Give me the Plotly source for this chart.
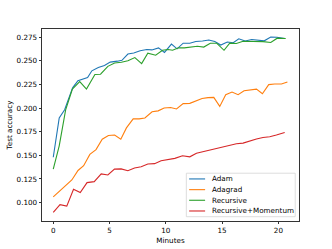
import plotly.graph_objects as go

# ---- data ----
series_names = ["Adam", "Adagrad", "Recursive", "Recursive+Momentum"]
series_colors = ["#1f77b4", "#ff7f0e", "#2ca02c", "#d62728"]

adam_min = [0, 0.53, 1.01, 1.72, 2.19, 2.6, 3.05, 3.43, 4.0, 4.55, 5.06, 5.7, 6.1, 6.63, 7.15, 7.72,
            8.31, 8.76, 9.35, 9.88, 10.5, 11.0, 11.54, 12.13, 12.66, 13.26, 13.82, 14.35, 14.88, 15.46,
            15.99, 16.48, 17.05, 17.63, 18.16, 18.74, 19.32, 19.87, 20.56]
adam_acc = [0.148, 0.1894, 0.1982, 0.2213, 0.2288, 0.2305, 0.2321, 0.2393, 0.2428, 0.2449, 0.2485,
            0.2495, 0.2504, 0.2570, 0.2582, 0.2605, 0.2618, 0.2614, 0.2635, 0.2587, 0.2675, 0.2625,
            0.2685, 0.2685, 0.2703, 0.2708, 0.2718, 0.2703, 0.2665, 0.2697, 0.2690, 0.2732, 0.2708,
            0.2724, 0.2718, 0.2710, 0.2750, 0.2748, 0.2734]

adagrad_min = [0, 0.55, 1.1, 1.65, 2.2, 2.7, 3.25, 3.8, 4.35, 4.9, 5.45, 6.0, 6.5, 7.1, 7.63, 8.14,
               8.78, 9.32, 9.85, 10.42, 10.95, 11.54, 12.13, 12.64, 13.22, 13.75, 14.26, 14.79, 15.32,
               15.88, 16.42, 16.95, 17.48, 18.05, 18.58, 19.14, 19.67, 20.27, 20.8]
adagrad_acc = [0.106, 0.112, 0.118, 0.124, 0.134, 0.139, 0.151, 0.156, 0.167, 0.171, 0.1715, 0.167,
               0.179, 0.1885, 0.1885, 0.1894, 0.196, 0.197, 0.200, 0.2006, 0.199, 0.2046, 0.2049,
               0.207, 0.210, 0.211, 0.2112, 0.2017, 0.2141, 0.2169, 0.2141, 0.2183, 0.219, 0.220,
               0.2151, 0.2247, 0.2254, 0.2254, 0.2275]

recursive_min = [0, 0.53, 1.1, 1.7, 2.35, 2.95, 3.7, 4.2, 4.85, 5.45, 6.05, 6.63, 7.25, 7.85, 8.4,
                 9.1, 9.7, 10.2, 10.6, 11.13, 11.64, 12.22, 12.8, 13.37, 13.95, 14.53, 15.17, 15.68,
                 16.27, 16.86, 17.45, 18.05, 18.63, 19.32, 19.9, 20.65]
recursive_acc = [0.1355, 0.160, 0.198, 0.220, 0.228, 0.220, 0.2355, 0.2357, 0.244, 0.2475, 0.2484,
                 0.250, 0.2533, 0.247, 0.258, 0.2558, 0.261, 0.2618, 0.261, 0.2636, 0.2636, 0.2642,
                 0.2653, 0.2644, 0.2684, 0.2684, 0.261, 0.2686, 0.2682, 0.2706, 0.2706, 0.2704,
                 0.2702, 0.2692, 0.2738, 0.2734]

recmom_min = [0, 0.6, 1.2, 1.8, 2.4, 3.0, 3.64, 4.26, 4.85, 5.44, 6.03, 6.63, 7.22, 7.81, 8.4, 9.0,
              9.58, 10.18, 10.8, 11.48, 12.13, 12.72, 13.31, 13.9, 14.5, 15.08, 15.68, 16.27, 16.86,
              17.45, 18.05, 18.63, 19.23, 19.82, 20.56]
recmom_acc = [0.0896, 0.0978, 0.0963, 0.1142, 0.1106, 0.1212, 0.1222, 0.1304, 0.1293, 0.1354,
              0.1357, 0.1337, 0.1366, 0.1379, 0.1408, 0.1412, 0.1443, 0.1458, 0.1468, 0.1495,
              0.1484, 0.1523, 0.154, 0.1551, 0.1576, 0.1593, 0.1604, 0.1622, 0.1629, 0.1654,
              0.1672, 0.1689, 0.1696, 0.1714, 0.1742]

x_ticks = [0, 5, 10, 15, 20]
y_ticks = [0.100, 0.125, 0.150, 0.175, 0.200, 0.225, 0.250, 0.275]
x_title = "Minutes"
y_title = "Test accuracy"

series_x = [adam_min, adagrad_min, recursive_min, recmom_min]
series_y = [adam_acc, adagrad_acc, recursive_acc, recmom_acc]

# ---- layout geometry ----
W, H = 332, 249
L, R, T, B = 42, 299.3, 29.3, 221.0
FONT = "DejaVu Sans"
FS = 7.2


def px2paper_x(px):
    return (px - L) / (R - L)


def px2paper_y(py):
    return (B - py) / (B - T)


fig = go.Figure()
for xs, ys, name, col in zip(series_x, series_y, series_names, series_colors):
    fig.add_trace(go.Scatter(x=xs, y=ys, mode="lines", name=name,
                             line=dict(color=col, width=1.1), showlegend=False))

axis_common = dict(
    showgrid=False, zeroline=False, showline=True, mirror=True,
    linecolor="#333333", linewidth=0.8,
    ticks="outside", ticklen=2.5, tickwidth=0.7, tickcolor="#333333",
    tickfont=dict(family=FONT, size=FS, color="black"),
)

fig.update_layout(
    width=W, height=H, autosize=False,
    margin=dict(l=L, r=W - R, t=T, b=H - B, pad=0),
    paper_bgcolor="white", plot_bgcolor="white",
    font=dict(family=FONT, size=FS, color="black"),
    xaxis=dict(range=[-1.0, 21.83], tickvals=x_ticks, ticktext=[str(v) for v in x_ticks],
               title=dict(text=x_title, font=dict(family=FONT, size=FS), standoff=3),
               automargin=False, **axis_common),
    yaxis=dict(range=[0.0806, 0.2835], tickvals=y_ticks, ticktext=[f"{v:.3f}" for v in y_ticks],
               title=dict(text=y_title, font=dict(family=FONT, size=FS), standoff=3),
               automargin=False, **axis_common),
)

# ---- legend drawn as matplotlib-style box ----
box = (186.5, 173.3, 295.5, 216.7)
fig.add_shape(type="rect", xref="paper", yref="paper",
              x0=px2paper_x(box[0]), x1=px2paper_x(box[2]),
              y0=px2paper_y(box[3]), y1=px2paper_y(box[1]),
              line=dict(color="#d0d0d0", width=0.7), fillcolor="rgba(255,255,255,0.8)", layer="above")
row_y = [179.0, 189.7, 200.3, 211.0]
for name, col, ry in zip(series_names, series_colors, row_y):
    fig.add_shape(type="line", xref="paper", yref="paper",
                  x0=px2paper_x(189.3), x1=px2paper_x(205.3),
                  y0=px2paper_y(ry), y1=px2paper_y(ry),
                  line=dict(color=col, width=1.1), layer="above")
    fig.add_annotation(xref="paper", yref="paper", x=px2paper_x(210.3), y=px2paper_y(ry),
                       text=name, showarrow=False, xanchor="left", yanchor="middle",
                       font=dict(family=FONT, size=FS, color="black"))

fig.write_html("out.html", config={"responsive": False, "displayModeBar": False},
               post_script="document.body.style.margin='0';document.body.style.overflow='hidden';")
